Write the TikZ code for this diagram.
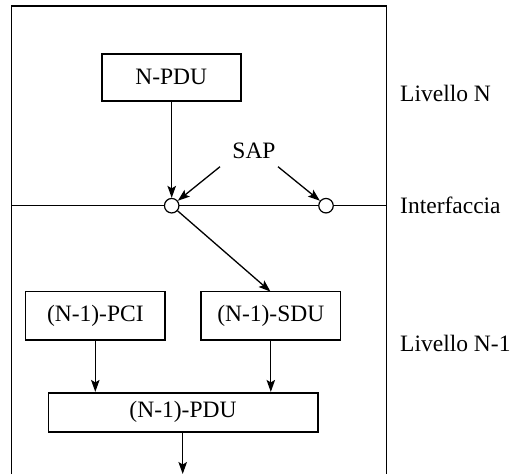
\documentclass[tikz,border=0pt]{standalone}
\usepackage{fontspec}
\setmainfont{Liberation Serif}
\usetikzlibrary{arrows.meta}
\begin{document}
\begin{tikzpicture}[x=1pt,y=-1pt,
  every node/.style={font=\fontsize{23.5}{28}\selectfont},
  box/.style={draw,line width=1.6pt,inner sep=0pt,minimum height=47pt,align=center},
  sap/.style={circle,draw,fill=white,line width=1.2pt,minimum size=14.5pt,inner sep=0pt},
  conn/.style={line width=1.3pt,-{Stealth[length=12pt,width=8.5pt,inset=2.5pt]}},
  lbl/.style={anchor=west,inner sep=0pt}]
\useasboundingbox (0,0) rectangle (513,474);
% outer frame
\draw[line width=1.3pt] (11.7,474) -- (11.7,6) -- (386.7,6) -- (386.7,474);
\draw[line width=1.3pt] (11.7,205.7) -- (386.7,205.7);
% nodes
\node[box,minimum width=139pt] (npdu) at (171.2,77.3) {N-PDU};
\node[sap] (c1) at (171.7,205.7) {};
\node[sap] (c2) at (326,205.7) {};
\node[inner sep=0pt] (saplbl) at (254,151) {SAP};
\node[box,minimum width=139.3pt,minimum height=48.3pt] (pci) at (95.3,315.8) {(N-1)-PCI};
\node[box,minimum width=139.7pt,minimum height=48.3pt] (sdu) at (270.8,315.8) {(N-1)-SDU};
\node[box,minimum width=269.4pt,minimum height=39pt] (pdu) at (183,412.2) {(N-1)-PDU};
\coordinate (s1) at (220,166.7);
\coordinate (s2) at (278,166.7);
\coordinate (down) at (182.7,474);
% labels
\node[lbl] (ln) at (400,93.3) {Livello N};
\node[lbl] (li) at (400,205) {Interfaccia};
\node[lbl] (ln1) at (400,343) {Livello N-1};
% connectors
\draw[conn] (npdu.south -| c1) -- (c1.north);
\draw[conn] (s1) -- (c1);
\draw[conn] (s2) -- (c2);
\draw[conn] (c1) -- (270.5,291.6);
\draw[conn] (pci.south) -- (pci.south |- pdu.north);
\draw[conn] (sdu.south) -- (sdu.south |- pdu.north);
\draw[conn] (pdu.south -| down) -- (down);
\end{tikzpicture}
\end{document}
